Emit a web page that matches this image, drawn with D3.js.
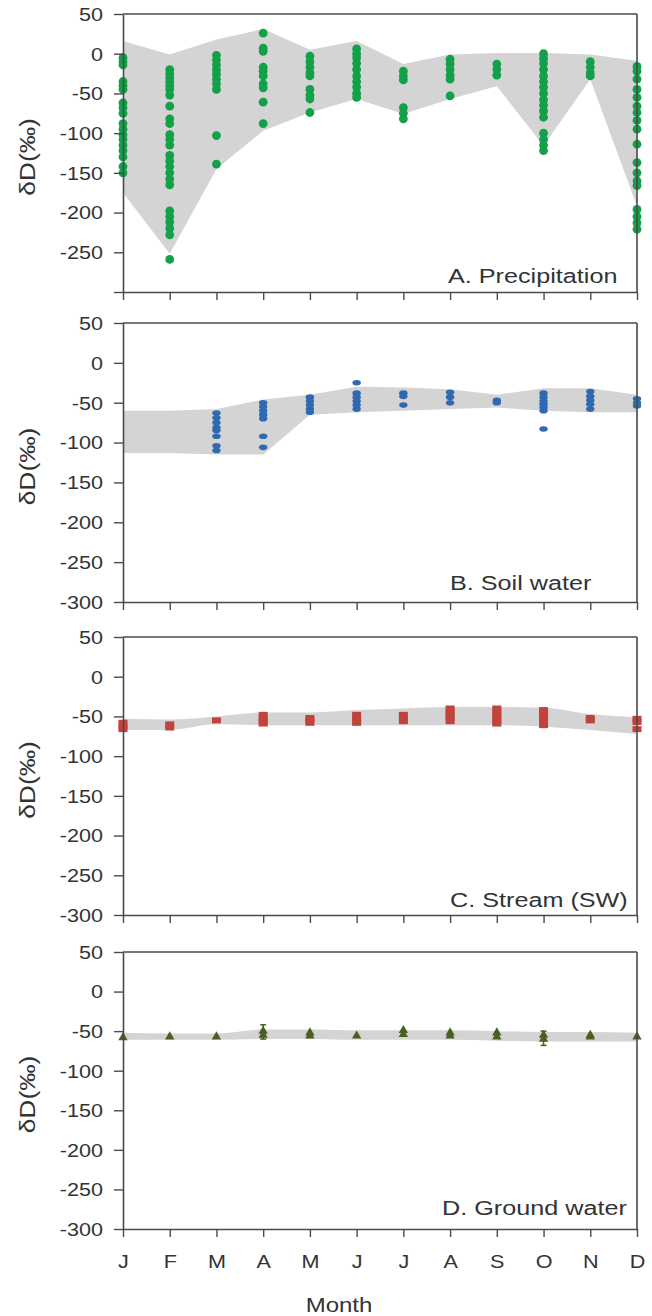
<!DOCTYPE html>
<html><head><meta charset="utf-8">
<script src="https://cdn.jsdelivr.net/npm/d3@7"></script>
<style>
body{margin:0;background:#fff}
svg{display:block}
text{font-family:"Liberation Sans",Arial,Helvetica,sans-serif;fill:#333}
</style>
</head><body><svg id="c" width="652" height="1316"></svg>
<script>
// ---------- data ----------
const months = ["J","F","M","A","M","J","J","A","S","O","N","D"];
const yTicks = [50,0,-50,-100,-150,-200,-250,-300];
const panelTitles = ["A. Precipitation","B. Soil water","C. Stream (SW)","D. Ground water"];
const yLabel = "δD(‰)";
const xLabel = "Month";

// A. Precipitation (per month, δD ‰)
const precipValues = [
  [-5,-10,-14,-35,-40,-45,-62,-68,-75,-88,-95,-102,-108,-115,-122,-130,-142,-150],
  [-20,-25,-30,-35,-40,-45,-52,-66,-82,-88,-102,-108,-115,-128,-135,-142,-150,-158,-165,-198,-205,-212,-220,-228,-259],
  [-2,-8,-14,-20,-26,-32,-38,-45,-103,-139],
  [26,7,3,-17,-22,-28,-38,-43,-61,-88],
  [-3,-10,-17,-24,-28,-45,-52,-57,-74],
  [6,0,-5,-12,-20,-28,-35,-42,-50,-55],
  [-22,-28,-33,-68,-75,-82],
  [-7,-13,-20,-27,-32,-53],
  [-13,-20,-27],
  [0,-6,-12,-20,-28,-35,-42,-50,-58,-65,-72,-80,-100,-108,-115,-122],
  [-10,-17,-24,-28],
  [-16,-22,-32,-45,-55,-66,-74,-84,-95,-114,-137,-150,-160,-166,-196,-205,-213,-221]
];
const precipBandHigh = [16,-1,18,31,5,16,-13,-1,1,1,-1,-9];
const precipBandLow  = [-175,-252,-145,-97,-74,-57,-76,-57,-41,-116,-32,-192];

// B. Soil water
const soilValues = [
  [],
  [],
  [-63,-69,-75,-81,-85,-92,-104,-110],
  [-50,-55,-60,-65,-70,-92,-106],
  [-43,-48,-53,-58,-62],
  [-25,-38,-43,-48,-53,-58],
  [-38,-42,-53],
  [-37,-43,-50],
  [-47,-50],
  [-38,-43,-48,-52,-56,-60,-83],
  [-36,-42,-47,-52,-58],
  [-45,-50,-54]
];
const soilBandHigh = [-60,-60,-58,-46,-40,-30,-31,-33,-40,-32,-32,-40];
const soilBandLow  = [-113,-113,-115,-115,-65,-62,-60,-58,-56,-60,-62,-62];

// C. Stream (SW)
const streamValues = [
  [-58,-63,-66],
  [-60,-64],
  [-55],
  [-48,-52,-56,-59],
  [-52,-55,-58],
  [-48,-52,-56,-58],
  [-48,-52,-56],
  [-40,-44,-48,-52,-56],
  [-40,-44,-48,-52,-56,-59],
  [-42,-46,-50,-54,-58,-61],
  [-52,-55],
  [-53,-57,-66]
];
const streamBandHigh = [-53,-54,-50,-45,-45,-42,-40,-38,-38,-39,-47,-51];
const streamBandLow  = [-67,-67,-60,-61,-61,-61,-61,-61,-61,-63,-67,-72];

// D. Ground water
const groundValues = [
  [-58],[-57],[-57],[-50,-55],[-52,-56],[-56],[-49,-54],[-52,-56],[-52,-57],[-55,-60],[-55,-57],[-57]
];
const groundErrMonth = [3, 9];
const groundErrLow   = [-60, -68];
const groundErrHigh  = [-42, -50];
const groundBandHigh = [-52,-53,-53,-48,-48,-49,-49,-49,-50,-51,-51,-52];
const groundBandLow  = [-61,-61,-61,-60,-60,-61,-61,-61,-62,-63,-63,-63];

// ---------- layout ----------
const SX = 1.2; // wide type
const plotLeft = 123, plotRight = 637;
const layout = [
  {top:14,  bottom:292,  titleX:448, titleY:283,  showMinTick:false},
  {top:323, bottom:602,  titleX:450, titleY:590,  showMinTick:true},
  {top:637, bottom:915,  titleX:450, titleY:907,  showMinTick:true},
  {top:952, bottom:1229, titleX:442, titleY:1215, showMinTick:true}
];
const colors = {
  band:"#d4d4d4", axis:"#4a4a4a",
  precip:"#12a048", soil:"#2f69b0", stream:"#c2433e", ground:"#4a5f22"
};

const svg = d3.select("#c");
const x = d3.scaleLinear().domain([0, months.length-1]).range([plotLeft, plotRight]);

function flat(vals){ const out=[]; vals.forEach((arr,i)=>arr.forEach(v=>out.push({m:i,v}))); return out; }

function drawPanel(idx, hi, lo, curve){
  const L = layout[idx];
  const y = d3.scaleLinear().domain([-300,50]).range([L.bottom, L.top]);
  const g = svg.append("g");
  const bandData = hi.map((h,i)=>({m:i,h,l:lo[i]}));
  g.append("path").datum(bandData)
    .attr("fill", colors.band)
    .attr("d", d3.area().curve(curve).x(d=>x(d.m)).y0(d=>y(d.l)).y1(d=>y(d.h)));
  return {g, y, L};
}

function drawAxes(p, idx){
  const {g, y, L} = p;
  // top & right frame
  g.append("line").attr("x1",plotLeft).attr("x2",plotRight).attr("y1",L.top).attr("y2",L.top)
    .attr("stroke",colors.axis).attr("stroke-width",1.6);
  g.append("line").attr("x1",plotRight).attr("x2",plotRight).attr("y1",L.top).attr("y2",L.bottom)
    .attr("stroke",colors.axis).attr("stroke-width",1.6);
  const ya = g.append("g").attr("transform",`translate(${plotLeft},0)`)
    .call(d3.axisLeft(y).tickValues(yTicks).tickSize(9).tickSizeOuter(0)
      .tickFormat(d => (d===-300 && !L.showMinTick) ? "" : d));
  ya.selectAll("text").attr("x", -20/SX).attr("dy","0.35em")
    .attr("transform",`scale(${SX},1)`).style("font-size","18px").attr("fill","#333");
  const xa = g.append("g").attr("transform",`translate(0,${L.bottom})`)
    .call(d3.axisBottom(x).tickValues(d3.range(months.length)).tickSize(8).tickSizeOuter(0)
      .tickFormat(i => idx===3 ? months[i] : ""));
  xa.selectAll("text").attr("y", 39).attr("dy","0")
    .attr("transform",`scale(${SX},1)`).style("font-size","18px").attr("fill","#333");
  [ya,xa].forEach(a=>{
    a.select(".domain").attr("stroke",colors.axis).attr("stroke-width",1.6);
    a.selectAll(".tick line").attr("stroke",colors.axis).attr("stroke-width",1.4);
  });
  g.append("text").attr("transform",`translate(${L.titleX},${L.titleY}) scale(${SX},1)`)
    .style("font-size","21px").text(panelTitles[idx]);
  const cy = (L.top+L.bottom)/2 + 4;
  g.append("text").attr("transform",`translate(35,${cy}) rotate(-90) scale(${SX},1)`)
    .attr("text-anchor","middle").style("font-size","22px").text(yLabel);
}

// A
const pA = drawPanel(0, precipBandHigh, precipBandLow, d3.curveLinear);
pA.g.selectAll("circle.p").data(flat(precipValues)).join("circle")
  .attr("cx",d=>x(d.m)).attr("cy",d=>pA.y(d.v)).attr("r",4.4).attr("fill",colors.precip);
drawAxes(pA,0);

// B
const pB = drawPanel(1, soilBandHigh, soilBandLow, d3.curveLinear);
pB.g.selectAll("ellipse.p").data(flat(soilValues)).join("ellipse")
  .attr("cx",d=>x(d.m)).attr("cy",d=>pB.y(d.v)).attr("rx",4.2).attr("ry",2.8).attr("fill",colors.soil);
drawAxes(pB,1);

// C
const pC = drawPanel(2, streamBandHigh, streamBandLow, d3.curveMonotoneX);
pC.g.selectAll("rect.p").data(flat(streamValues)).join("rect")
  .attr("x",d=>x(d.m)-4.5).attr("y",d=>pC.y(d.v)-3).attr("width",9).attr("height",6).attr("fill",colors.stream);
drawAxes(pC,2);

// D
const pD = drawPanel(3, groundBandHigh, groundBandLow, d3.curveMonotoneX);
pD.g.selectAll("line.err").data(groundErrMonth).join("line")
  .attr("x1",d=>x(d)).attr("x2",d=>x(d))
  .attr("y1",(d,i)=>pD.y(groundErrLow[i])).attr("y2",(d,i)=>pD.y(groundErrHigh[i]))
  .attr("stroke",colors.ground).attr("stroke-width",1.5);
pD.g.selectAll("line.caplo").data(groundErrMonth).join("line")
  .attr("x1",d=>x(d)-3).attr("x2",d=>x(d)+3)
  .attr("y1",(d,i)=>pD.y(groundErrLow[i])).attr("y2",(d,i)=>pD.y(groundErrLow[i]))
  .attr("stroke",colors.ground).attr("stroke-width",1.5);
pD.g.selectAll("line.caphi").data(groundErrMonth).join("line")
  .attr("x1",d=>x(d)-3).attr("x2",d=>x(d)+3)
  .attr("y1",(d,i)=>pD.y(groundErrHigh[i])).attr("y2",(d,i)=>pD.y(groundErrHigh[i]))
  .attr("stroke",colors.ground).attr("stroke-width",1.5);
pD.g.selectAll("path.p").data(flat(groundValues)).join("path")
  .attr("transform",d=>`translate(${x(d.m)},${pD.y(d.v)})`)
  .attr("d", d3.symbol(d3.symbolTriangle, 38)).attr("fill",colors.ground);
drawAxes(pD,3);

svg.append("text").attr("transform",`translate(339,1312) scale(${SX},1)`)
  .attr("text-anchor","middle").style("font-size","20px").text(xLabel);
</script>
</body></html>
